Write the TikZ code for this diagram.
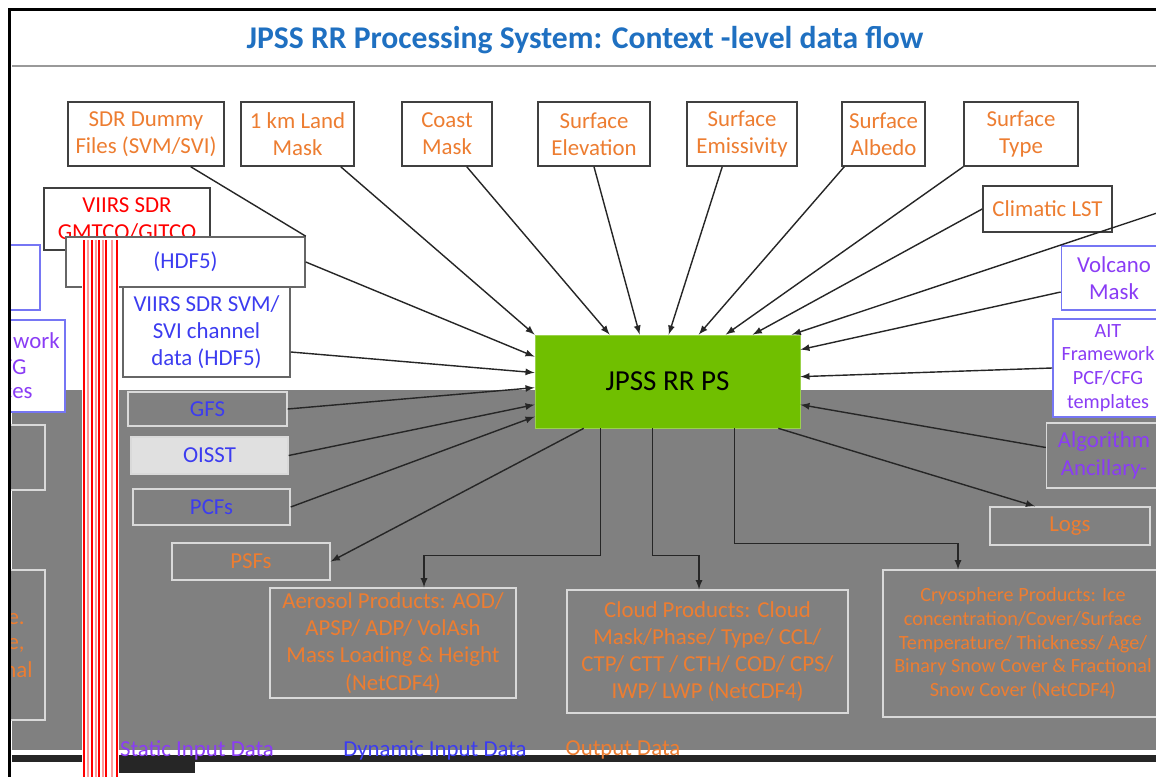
\documentclass[tikz,border=0pt]{standalone}
\usepackage{fontspec}
\setmainfont{Carlito}
\usetikzlibrary{arrows}
\usetikzlibrary{calc}
\definecolor{txtorange}{HTML}{ED7D31}
\definecolor{txtblue}{HTML}{3C3CF0}
\definecolor{txtpurple}{HTML}{8A3CF5}
\definecolor{titleblue}{HTML}{1F70C1}
\definecolor{jpssgreen}{HTML}{70BF00}
\definecolor{bggray}{HTML}{808080}
\definecolor{stripepink}{HTML}{FF9A9A}
\newcommand*\boxfont{\fontsize{13}{15.5}\selectfont}
\newcommand*\smallboxfont{\fontsize{11.5}{13.5}\selectfont}
\newcommand*\headfont{\fontsize{18}{21}\selectfont\bfseries}
\newcommand*\procfont{\fontsize{16.5}{19}\selectfont}

\begin{document}
\begin{tikzpicture}[x=0.02cm,y=-0.02cm,>=latex,
	inbox/.style={draw=black!75,line width=0.9pt,fill=white,align=center,font=\boxfont,inner sep=1pt},
	topbox/.style={inbox,text=txtorange,minimum height=1.28cm},
	graybox/.style={draw=black!15,line width=0.8pt,fill=bggray,align=center,font=\boxfont,inner sep=1pt},
	outbox/.style={graybox,text=txtorange},
	frag/.style={font=\boxfont,inner sep=0pt,anchor=east},
	flow/.style={->,line width=0.8pt,black!85}]
			\useasboundingbox(0,0)rectangle(1156,777);
			\fill[white](0,0)rectangle(1156,777);
			\fill[bggray](12,390)rectangle(1156,750);
			\fill[black!85](12,755)rectangle(1156,762);
			\fill[black!85](118,755)rectangle(195,773);
			\draw[black!40,line width=1.5pt](12,66)--(1156,66);
			\node[font=\headfont,text=titleblue](title)at(585,40){JPSS RR Processing System: Context -level data flow};
			\node[topbox,minimum width=3.12cm](sdr)at(146,134){SDR Dummy\\Files (SVM/SVI)};
			\node[topbox,minimum width=2.26cm](land)at(297.5,134){1 km Land\\Mask};
			\node[topbox,minimum width=1.8cm](coast)at(447,134){Coast\\Mask};
			\node[topbox,minimum width=2.24cm](elev)at(594,134){Surface\\Elevation};
			\node[topbox,minimum width=2.2cm](emis)at(742,134){Surface\\Emissivity};
			\node[topbox,minimum width=1.66cm](albedo)at(883.5,134){Surface\\Albedo};
			\node[topbox,minimum width=2.28cm](stype)at(1021,134){Surface\\Type};
			\node[topbox,minimum width=2.58cm,minimum height=0.92cm](lst)at(1047.5,209){Climatic LST};
			\node[inbox,draw=txtblue!70,minimum width=1.6cm,minimum height=1.3cm](lefta)at(0,277.5){};
			\node[inbox,draw=txtblue!70,minimum width=2.1cm,minimum height=1.84cm](leftb)at(12.5,366){};
			\node[frag,text=txtpurple](fragwork)at(60,341){work};
			\node[frag,text=txtpurple](fragfg)at(27,367){FG};
			\node[frag,text=txtpurple](fragces)at(33,393){ces};
			\node[graybox,minimum width=1.7cm,minimum height=1.3cm](leftc)at(2.5,457.5){};
			\node[graybox,minimum width=1.7cm,minimum height=3cm](leftd)at(2.5,645){};
			\node[frag,text=txtorange](fragea)at(25,619){e.};
			\node[frag,text=txtorange](frageb)at(25,645){e,};
			\node[frag,text=txtorange](fragnal)at(33,670){nal};
			\node[inbox,text=red,minimum width=3.32cm,minimum height=1.24cm](gitco)at(127,219){VIIRS SDR\\GMTCO/GITCO};
			\node[inbox,draw=black!60,text=txtblue,minimum width=4.78cm,minimum height=1cm](hdf)at(185.5,262){(HDF5)};
			\node[inbox,draw=black!60,text=txtblue,minimum width=3.34cm,minimum height=1.8cm](svm)at(206.5,332){VIIRS SDR SVM/\\SVI channel\\data (HDF5)};
			\node[graybox,text=txtblue,minimum width=3.18cm,minimum height=0.68cm](gfs)at(207.5,409){GFS};
			\node[graybox,fill=black!12,text=txtblue,minimum width=3.14cm,minimum height=0.74cm](oisst)at(209.5,455.5){OISST};
			\node[graybox,text=txtblue,minimum width=3.14cm,minimum height=0.72cm](pcfs)at(211.5,507){PCFs};
			\node[outbox,minimum width=3.16cm,minimum height=0.74cm](psfs)at(251,561.5){PSFs};
			\node[draw=jpssgreen!70!white,fill=jpssgreen,font=\procfont,minimum width=5.3cm,minimum height=1.86cm](jpss)at(667.5,381.5){JPSS RR PS};
			\node[inbox,draw=txtblue!70,text=txtpurple,minimum width=2.1cm,minimum height=1.28cm](volc)at(1114,278){Volcano\\Mask};
			\node[inbox,draw=txtblue!70,text=txtpurple,font=\smallboxfont,minimum width=2.2cm,minimum height=1.96cm](ait)at(1108,368){AIT\\Framework\\PCF/CFG\\templates};
			\node[graybox,text=txtpurple,minimum width=2.3cm,minimum height=1.3cm](algo)at(1104,455.5){Algorithm\\Ancillary-};
			\node[outbox,minimum width=3.2cm,minimum height=0.76cm](logs)at(1070,526){Logs};
			\node[outbox,minimum width=4.92cm,minimum height=2.2cm](aero)at(393,643){Aerosol Products: AOD/\\APSP/ ADP/ VolAsh\\Mass Loading \& Height\\(NetCDF4)};
			\node[outbox,minimum width=5.62cm,minimum height=2.46cm](cloud)at(707.5,651.5){Cloud Products: Cloud\\Mask/Phase/ Type/ CCL/\\CTP/ CTT / CTH/ COD/ CPS/\\IWP/ LWP (NetCDF4)};
			\node[outbox,font=\smallboxfont,minimum width=5.6cm,minimum height=2.94cm](cryo)at(1023,643.5){Cryosphere Products: Ice\\concentration/Cover/Surface\\Temperature/ Thickness/ Age/\\Binary Snow Cover \& Fractional\\Snow Cover (NetCDF4)};
			\node[font=\boxfont,text=txtpurple,inner sep=0pt](statlbl)at(197,750){Static Input Data};
			\node[font=\boxfont,text=txtblue,inner sep=0pt](dynlbl)at(435,750){Dynamic Input Data};
			\node[font=\boxfont,text=txtorange,inner sep=0pt](outlbl)at(623,750){Output Data};
			\coordinate(offright)at(1160,212);
			\draw[line width=0.8pt,black!85]($(sdr.south east)+(-34,0)$)--(hdf.north east);
			\draw[flow](hdf.east)--($(jpss.north west)+(0,22)$);
			\draw[flow]($(svm.east)+(0,20)$)--($(jpss.north west)+(0,38)$);
			\draw[flow](gfs.east)--($(jpss.north west)+(0,53)$);
			\draw[flow](oisst.east)--($(jpss.north west)+(0,70)$);
			\draw[flow](pcfs.east)--($(jpss.north west)+(0,82)$);
			\draw[flow]($(land.south east)+(-14,0)$)--(jpss.north west);
			\draw[flow]($(coast.south east)+(-26,0)$)--($(jpss.north west)+(75,0)$);
			\draw[flow](elev.south)--($(jpss.north west)+(105,0)$);
			\draw[flow]($(emis.south west)+(36,0)$)--($(jpss.north west)+(134,0)$);
			\draw[flow]($(albedo.south west)+(3,0)$)--($(jpss.north west)+(164,0)$);
			\draw[flow](stype.south west)--($(jpss.north west)+(191,0)$);
			\draw[flow](lst.west)--($(jpss.north west)+(218,0)$);
			\draw[flow](offright)--($(jpss.north west)+(257,0)$);
			\draw[flow]($(volc.west)+(0,14)$)--($(jpss.north east)+(0,15)$);
			\draw[flow](ait.west)--($(jpss.north east)+(0,42)$);
			\draw[flow]($(algo.west)+(0,-8)$)--($(jpss.north east)+(0,70)$);
			\draw[flow]($(jpss.south east)+(-22,0)$)--($(logs.north)+(-35,0)$);
			\draw[flow]($(jpss.south west)+(49,0)$)--(psfs.east);
			\draw[flow]($(jpss.south west)+(66,0)$)--++(0,127)-|($(aero.north)+(31,0)$);
			\draw[flow]($(jpss.south west)+(118,0)$)--++(0,127)-|($(cloud.north)+(-8.5,0)$);
			\draw[flow]($(jpss.south west)+(200,0)$)--++(0,115)-|($(cryo.north)+(-65,0)$);
			\fill[white](82,240)rectangle(119,777);
			\draw[red,line width=1.1pt](84,240)--(84,777)(92,240)--(92,777)(99,240)--(99,777)(106,240)--(106,777)(117,240)--(117,777);
			\draw[stripepink,line width=1.1pt](88,240)--(88,777)(96,240)--(96,777)(103,240)--(103,777)(112,240)--(112,777);
			\fill[white](0,0)rectangle(8,777);
			\fill[white](0,0)rectangle(1156,8);
			\draw[black,line width=1.7pt](9.5,777)--(9.5,9.5)--(1156,9.5);
		\end{tikzpicture}
\end{document}
